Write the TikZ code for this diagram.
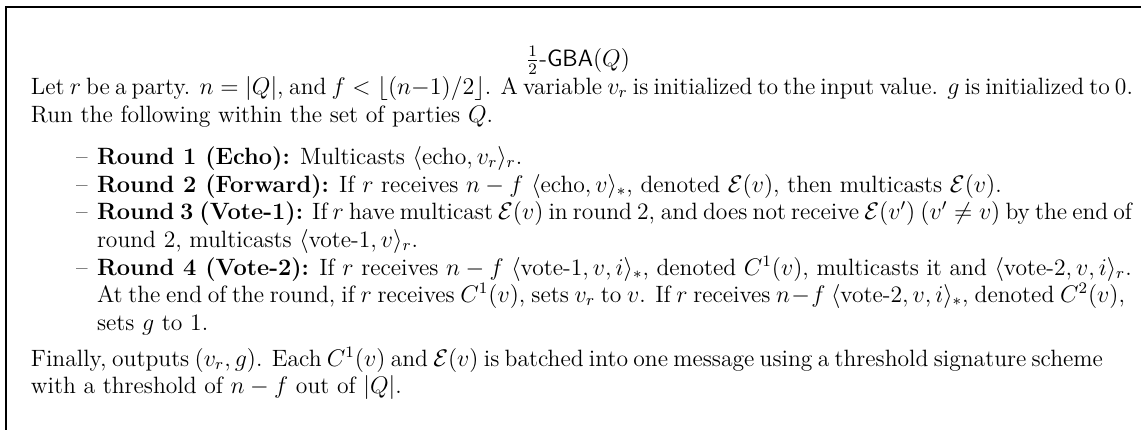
\documentclass[tikz,border=0pt]{standalone}
\usepackage{amsmath}
\usepackage{amssymb}
\tikzset{
  txt/.style={anchor=base west, inner sep=0pt, outer sep=0pt, font=\fontsize{11.8}{14}\selectfont},
  ttl/.style={anchor=base, inner sep=0pt, outer sep=0pt, font=\fontsize{11.8}{14}\selectfont},
  frameline/.style={line width=1pt, line cap=rect}
}
\begin{document}
\begin{tikzpicture}[x=0.5pt,y=-0.5pt]
\useasboundingbox (0,0) rectangle (1141,429);
\fill[white] (0,0) rectangle (1141,429);
\draw[frameline] (6,430) -- (6,6.6) -- (1142,6.6);
\node[ttl] (title) at (578,66) {$\frac{1}{2}$-\textsf{GBA}$(Q)$};
\node[txt] (l1) at (31,94) {\hbox to 538pt{Let $r$ be a party. $n=|Q|$, and $f<\lfloor (n-1)/2\rfloor$. A variable $v_r$ is initialized to the input value. $g$ is initialized to 0.}};
\node[txt] (l2) at (31,122) {Run the following within the set of parties $Q$.};
\node[txt] (d1) at (76,164) {--};
\node[txt] (i1) at (97,164) {\textbf{Round 1 (Echo):} Multicasts $\langle\text{echo}, v_r\rangle_r$.};
\node[txt] (d2) at (76,192) {--};
\node[txt] (i2) at (97,192) {\textbf{Round 2 (Forward):} If $r$ receives $n-f$ $\langle\text{echo}, v\rangle_*$, denoted $\mathcal{E}(v)$, then multicasts $\mathcal{E}(v)$.};
\node[txt] (d3) at (76,219) {--};
\node[txt] (i3a) at (97,219) {\hbox to 513pt{\textbf{Round 3 (Vote-1):} If $r$ have multicast $\mathcal{E}(v)$ in round 2, and does not receive $\mathcal{E}(v')$ $(v'\neq v)$ by the end of}};
\node[txt] (i3b) at (97,247) {round 2, multicasts $\langle\text{vote-1}, v\rangle_r$.};
\node[txt] (d4) at (76,275) {--};
\node[txt] (i4a) at (97,275) {\textbf{Round 4 (Vote-2):} If $r$ receives $n-f$ $\langle\text{vote-1}, v, i\rangle_*$, denoted $C^1(v)$, multicasts it and $\langle\text{vote-2}, v, i\rangle_r$.};
\node[txt] (i4b) at (97,302) {\hbox to 514pt{At the end of the round, if $r$ receives $C^1(v)$, sets $v_r$ to $v$. If $r$ receives $n-f$ $\langle\text{vote-2}, v, i\rangle_*$, denoted $C^2(v)$,}};
\node[txt] (i4c) at (97,330) {sets $g$ to 1.};
\node[txt] (f1) at (31,366) {\hbox to 536pt{Finally, outputs $(v_r,g)$. Each $C^1(v)$ and $\mathcal{E}(v)$ is batched into one message using a threshold signature scheme}};
\node[txt] (f2) at (31,393) {with a threshold of $n-f$ out of $|Q|$.};
\end{tikzpicture}
\end{document}
